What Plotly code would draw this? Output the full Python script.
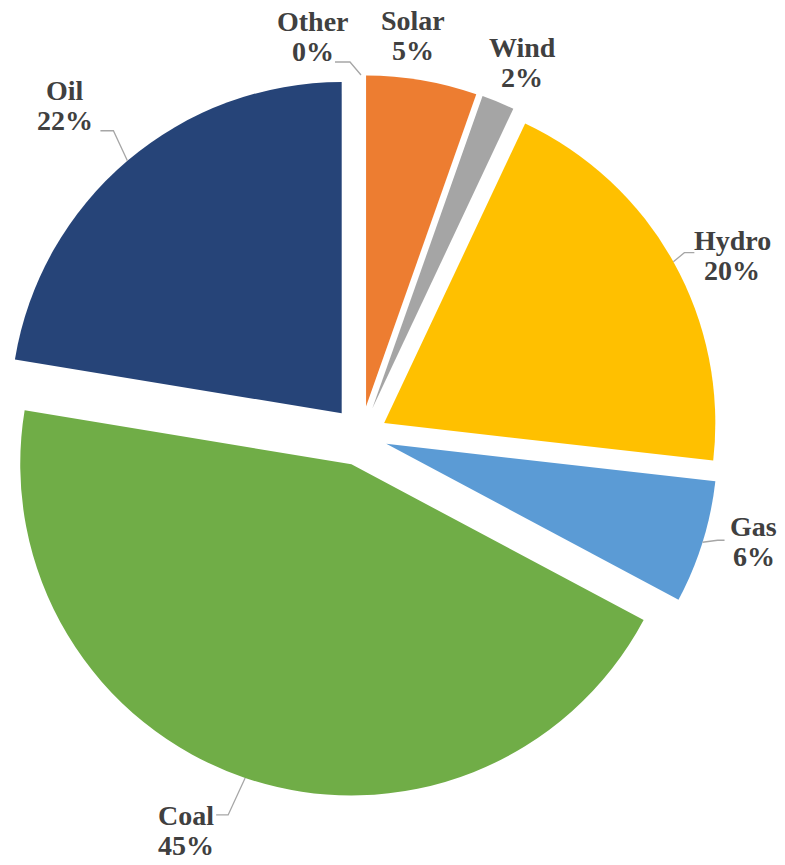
import math
import plotly.graph_objects as go

# ---- data ----
labels = ["Other", "Solar", "Wind", "Hydro", "Gas", "Coal", "Oil"]
values = [0.0, 5.4, 1.6, 19.8, 6.0, 44.8, 22.4]

# ---- style ----
colors = ["#4472C4", "#ED7D31", "#A5A5A5", "#FFC000", "#5B9BD5", "#70AD47", "#264478"]
pulls = [0.09, 0.09, 0.09, 0.08, 0.08, 0.09, 0.09]
# text centre offsets (px) from the slice's outer mid point
label_offsets = [(-48, -38), (-9, -45), (24, -40), (59, -6), (51, -1), (-59, 53), (-62, -55)]
# leader line: start offset (px) from outer mid point, then horizontal run, then to the slice
leaders = [(-26, -13, 15), None, None, (21, -9, -10), (22, -2, -7), (-29, 37, 12), (-27, -30, 13)]

W, H = 785, 865
dom_x = [0.0, 722 / W]
dom_y = [0.0, 2 - 2 * 436 / H]
FONT = dict(family="Liberation Serif, Times New Roman, serif", size=28, color="#404040")
LINE_GAP = 30

fig = go.Figure(go.Pie(
    labels=labels,
    values=values,
    sort=False,
    direction="clockwise",
    rotation=0,
    pull=pulls,
    marker=dict(colors=colors, line=dict(width=0)),
    textinfo="none",
    hoverinfo="label+percent",
    domain=dict(x=dom_x, y=dom_y),
    showlegend=False,
))

# same geometry as plotly's pie, to place labels at slice edges
cx = W * (dom_x[0] + dom_x[1]) / 2
cy = H * (2 - dom_y[0] - dom_y[1]) / 2
r = min(W * (dom_x[1] - dom_x[0]), H * (dom_y[1] - dom_y[0])) / (2 + 2 * max(pulls))
total = sum(values)


def px(x, y):
    return x / W, 1 - y / H


cum = 0.0
annotations = []
shapes = []
for lab, v, p, (ox, oy), lead in zip(labels, values, pulls, label_offsets, leaders):
    mid = (cum + v / 2) / total * 2 * math.pi
    cum += v
    d = r * (1 + p)
    tx = cx + d * math.sin(mid)
    ty = cy - d * math.cos(mid)
    pct = round(v / total * 100)
    for txt, dy in ((lab, -LINE_GAP / 2), (f"{pct}%", LINE_GAP / 2)):
        ax_, ay_ = px(tx + ox, ty + oy + dy)
        annotations.append(dict(
            x=ax_, y=ay_, xref="paper", yref="paper",
            text=f"<b>{txt}</b>", showarrow=False,
            xanchor="center", yanchor="middle", font=FONT,
        ))
    if lead is not None:
        sx, sy, hx = lead
        p0 = px(tx + sx, ty + sy)
        p1 = px(tx + sx + hx, ty + sy)
        p2 = px(tx, ty)
        shapes.append(dict(
            type="path", xref="paper", yref="paper",
            path=f"M {p0[0]} {p0[1]} L {p1[0]} {p1[1]} L {p2[0]} {p2[1]}",
            line=dict(color="#A6A6A6", width=1.3),
        ))

fig.update_layout(
    width=W, height=H,
    margin=dict(l=0, r=0, t=0, b=0),
    paper_bgcolor="white",
    plot_bgcolor="white",
    annotations=annotations,
    shapes=shapes,
)

fig.write_html("out.html")
